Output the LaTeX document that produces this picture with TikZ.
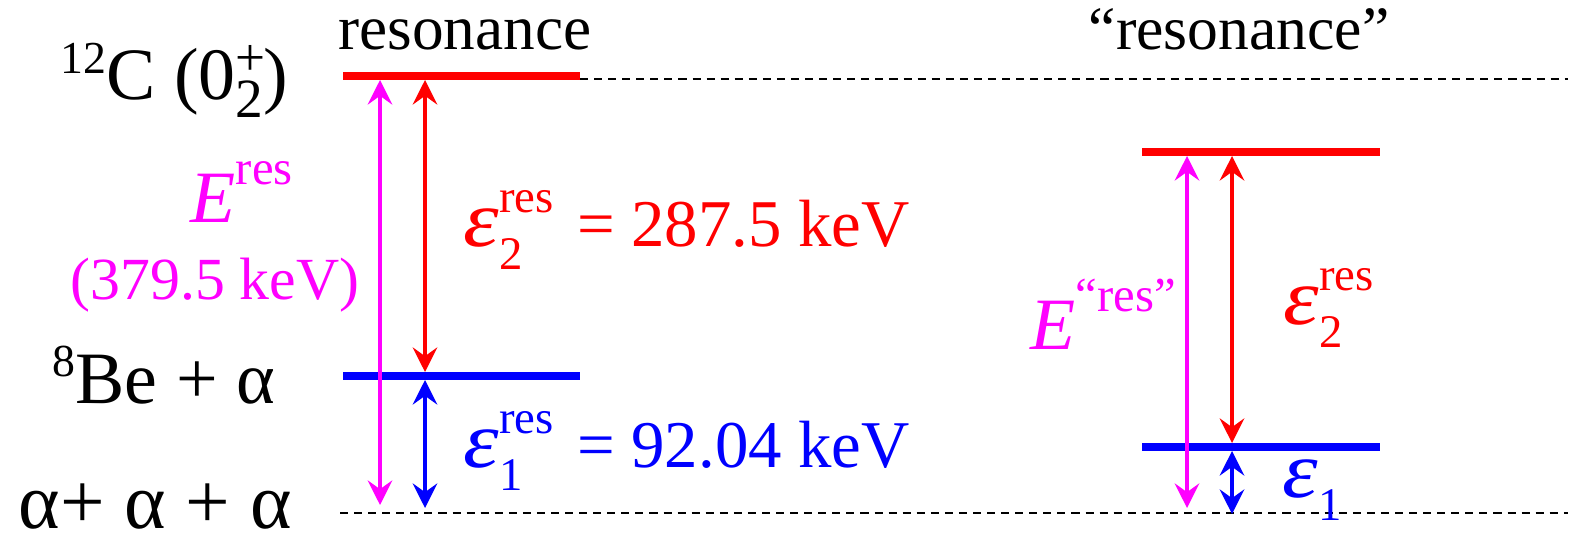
\documentclass[tikz,border=0pt]{standalone}
\usepackage{fontspec}
\setmainfont{Liberation Serif}
\usetikzlibrary{arrows.meta}
\definecolor{resred}{RGB}{255,0,0}
\definecolor{resblue}{RGB}{0,0,255}
\definecolor{resmag}{RGB}{255,0,255}
\newcommand{\upidx}[2][0.7]{\raisebox{0.52em}{\scalebox{#1}{#2}}}
\newcommand{\downidx}[2][0.7]{\raisebox{-0.33em}{\scalebox{#1}{#2}}}
\newcommand{\updown}[2]{\setbox0\hbox{\upidx{#1}}\setbox2\hbox{\downidx{#2}}\ifdim\wd0>\wd2 \rlap{\box2}\box0\else\rlap{\box0}\box2\fi}
\newcommand{\veps}{\scalebox{1.35}[1.2]{\itshape ε}}
\newcommand{\nucl}[1]{\raisebox{0.36em}{\scalebox{0.62}{#1}}}

\begin{document}
\begin{tikzpicture}[x=0.01cm, y=-0.01cm,
  level/.style={line width=2pt},
  gap/.style={line width=0.9pt, {Stealth[length=7pt,width=7pt,inset=2.5pt]}-{Stealth[length=7pt,width=7pt,inset=2.5pt]}},
  thresh/.style={line width=0.5pt, dash pattern=on 2.3pt off 1.7pt},
  lbl/.style={inner sep=0pt, font=\fontsize{21}{25}\selectfont},
  val/.style={inner sep=0pt, font=\fontsize{19}{23}\selectfont}]
\useasboundingbox (0,0) rectangle (1573,534);

\coordinate (topL) at (343,76);   \coordinate (topR) at (580,76);
\coordinate (beL) at (343,376);   \coordinate (beR) at (580,376);
\coordinate (fakeL) at (1142,152); \coordinate (fakeR) at (1380,152);
\coordinate (lowL) at (1142,447); \coordinate (lowR) at (1380,447);
\coordinate (dashA) at (580,79);  \coordinate (dashB) at (1568,79);
\coordinate (dashC) at (340,513); \coordinate (dashD) at (1568,513);

\draw[thresh] (dashA) -- (dashB);
\draw[thresh] (dashC) -- (dashD);
\draw[level, resred] (topL) -- (topR);
\draw[level, resblue] (beL) -- (beR);
\draw[level, resred] (fakeL) -- (fakeR);
\draw[level, resblue] (lowL) -- (lowR);

\coordinate (m1) at (380,80);   \coordinate (m2) at (380,505);
\coordinate (r1) at (425,80);   \coordinate (r2) at (425,372);
\coordinate (b1) at (425,380);  \coordinate (b2) at (425,508);
\coordinate (m3) at (1187,156); \coordinate (m4) at (1187,508);
\coordinate (r3) at (1232,156); \coordinate (r4) at (1232,443);
\coordinate (b3) at (1232,451); \coordinate (b4) at (1232,514);

\draw[gap, resmag] (m1) -- (m2);
\draw[gap, resred] (r1) -- (r2);
\draw[gap, resblue] (b1) -- (b2);
\draw[gap, resmag] (m3) -- (m4);
\draw[gap, resred] (r3) -- (r4);
\draw[gap, resblue] (b3) -- (b4);

\node[inner sep=0pt, font=\fontsize{18}{22}\selectfont, anchor=base] (hdrres) at (465,50) {resonance};
\node[inner sep=0pt, font=\fontsize{17.5}{21}\selectfont, anchor=base] (hdrfake) at (1239,50) {“resonance”};
\node[lbl, anchor=base west] (carbon) at (60,100) {\nucl{12}C (0\rlap{\raisebox{0.33em}{\scalebox{0.72}{+}}}\raisebox{-0.24em}{\scalebox{0.75}{2}})};
\node[lbl, anchor=base west] (beryl) at (52,403) {\nucl{8}Be + α};
\node[inner sep=0pt, font=\fontsize{22.5}{26}\selectfont, anchor=base west] (alphas) at (18,528) {α+ α + α};
\node[lbl, resmag, anchor=base west] (eres) at (190,223) {\textit{E}\upidx[0.66]{res}};
\node[inner sep=0pt, font=\fontsize{17}{21}\selectfont, resmag, anchor=base] (eresval) at (215,300) {(379.5 keV)};
\node[val, resred, anchor=base west] (epstwo) at (463,247) {\veps\updown{res}{2}\hspace{0.35em}= 287.5 keV};
\node[val, resblue, anchor=base west] (epsone) at (463,468) {\veps\updown{res}{1}\hspace{0.35em}= 92.04 keV};
\node[lbl, resmag, anchor=base west] (efake) at (1030,350) {\textit{E}\upidx[0.66]{“res”}};
\node[val, resred, anchor=base west] (epstwofake) at (1283,325) {\veps\updown{res}{2}};
\node[val, resblue, anchor=base west] (epsonefake) at (1282,498) {\veps\downidx{1}};
\end{tikzpicture}
\end{document}
